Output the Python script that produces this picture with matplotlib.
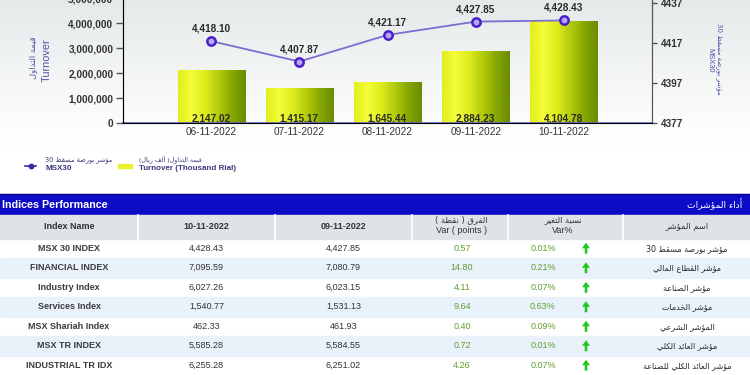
import re
import matplotlib
matplotlib.use('Agg')
import matplotlib.pyplot as plt
import numpy as np
from matplotlib import font_manager as fm
from matplotlib.colors import LinearSegmentedColormap

# ---- data ----
dates = ['06-11-2022', '07-11-2022', '08-11-2022', '09-11-2022', '10-11-2022']
turnover = [2147.02, 1415.17, 1645.44, 2884.23, 4104.78]  # thousand rial
msx30 = [4418.10, 4407.87, 4421.17, 4427.85, 4428.43]
left_ticks = [0, 1000000, 2000000, 3000000, 4000000, 5000000]
right_ticks = [4377, 4397, 4417, 4437]

index_en = ['MSX 30 INDEX', 'FINANCIAL INDEX', 'Industry Index', 'Services Index',
            'MSX Shariah Index', 'MSX TR INDEX', 'INDUSTRIAL TR IDX']
index_ar = ['مؤشر بورصة مسقط 30', 'مؤشر القطاع المالي', 'مؤشر الصناعة', 'مؤشر الخدمات',
            'المؤشر الشرعي', 'مؤشر العائد الكلي', 'مؤشر العائد الكلي للصناعة']
close_today = [4428.43, 7095.59, 6027.26, 1540.77, 462.33, 5585.28, 6255.28]
close_prev = [4427.85, 7080.79, 6023.15, 1531.13, 461.93, 5584.55, 6251.02]
var_points = [0.57, 14.80, 4.11, 9.64, 0.40, 0.72, 4.26]
var_pct = [0.01, 0.21, 0.07, 0.63, 0.09, 0.01, 0.07]

# ---- minimal arabic shaping (presentation forms + visual order) ----
DUAL = {'ئ': 0xFE89, 'ب': 0xFE8F, 'ت': 0xFE95, 'خ': 0xFEA5, 'س': 0xFEB1, 'ش': 0xFEB5,
        'ص': 0xFEB9, 'ط': 0xFEC1, 'ع': 0xFEC9, 'غ': 0xFECD, 'ف': 0xFED1, 'ق': 0xFED5,
        'ك': 0xFED9, 'ل': 0xFEDD, 'م': 0xFEE1, 'ن': 0xFEE5, 'ه': 0xFEE9, 'ي': 0xFEF1}
RIGHT = {'ا': 0xFE8D, 'أ': 0xFE83, 'ؤ': 0xFE85, 'ة': 0xFE93, 'د': 0xFEA9, 'ر': 0xFEAD,
         'و': 0xFEED}
ISO = {'ء': 0xFE80}


def ar(s):
    out = []
    i, n = 0, len(s)
    while i < n:
        ch = s[i]
        pj = i > 0 and s[i - 1] in DUAL
        if ch == 'ل' and i + 1 < n and s[i + 1] in 'اأ':
            base = 0xFEFB if s[i + 1] == 'ا' else 0xFEF7
            out.append(chr(base + (1 if pj else 0)))
            i += 2
            continue
        nxt = s[i + 1] if i + 1 < n else ''
        if ch in DUAL:
            jn = nxt in DUAL or nxt in RIGHT
            form = (3 if jn else 1) if pj else (2 if jn else 0)
            out.append(chr(DUAL[ch] + form))
        elif ch in RIGHT:
            out.append(chr(RIGHT[ch] + (1 if pj else 0)))
        elif ch in ISO:
            out.append(chr(ISO[ch]))
        else:
            out.append(ch)
        i += 1
    vis = ''.join(out)[::-1]
    vis = re.sub(r'[0-9]+', lambda m: m.group(0)[::-1], vis)
    return vis.translate(str.maketrans('()', ')('))


names = {f.name for f in fm.fontManager.ttflist}
if 'Liberation Sans Narrow' in names:
    NARROW, NS = 'Liberation Sans Narrow', 1.0
else:
    NARROW, NS = 'Liberation Sans', 0.82

plt.rcParams['font.family'] = ['Liberation Sans', 'DejaVu Sans']
AR = 'DejaVu Sans'

fig = plt.figure(figsize=(7.5, 3.75), dpi=100)
fig.patch.set_facecolor('white')

# background / table axes in pixel coords
bg = fig.add_axes([0, 0, 1, 1], zorder=0)
bg.axis('off')
grad = np.linspace(0, 1, 100)[:, None]
bg.imshow(grad, extent=(0, 750, 150, 0), aspect='auto',
          cmap=LinearSegmentedColormap.from_list('g', ['#e5e9e9', '#f4f6f6', '#ffffff']))
bg.set_xlim(0, 750)
bg.set_ylim(375, 0)

# ---- chart ----
ax = fig.add_axes([123 / 750, 1 - 123.3 / 375, 529 / 750, 125 / 375], zorder=1)
ax.patch.set_visible(False)
x = np.arange(len(dates))
bar_vals = [v * 1000 for v in turnover]
bars = ax.bar(x, bar_vals, width=0.76, facecolor='none', edgecolor='none')
bar_cmap = LinearSegmentedColormap.from_list(
    'b', ['#e2ee1c', '#f4fc3a', '#dcec1c', '#b4cc0c', '#88a800', '#6a8c00'])
hgrad = np.linspace(0, 1, 64)[None, :]
for r in bars:
    im = ax.imshow(hgrad, extent=(r.get_x(), r.get_x() + r.get_width(), 0, r.get_height()),
                   aspect='auto', cmap=bar_cmap, zorder=2)
    im.set_clip_path(r)
for xi, v in zip(x, turnover):
    ax.annotate(f'{v:,.2f}', (xi, 0), xytext=(0, 1.6), textcoords='offset points',
                ha='center', va='baseline', fontsize=7.2, fontweight='bold', color='#2a2a2a',
                zorder=4)
ax.set_xlim(-1, 5)
ax.set_ylim(0, 5000000)
ax.set_yticks(left_ticks)
ax.set_yticklabels([f'{t:,}' for t in left_ticks])
ax.set_xticks(x)
ax.set_xticklabels(dates)
ax.tick_params(axis='x', length=0, pad=3, labelsize=7.2, colors='#333333')
ax.tick_params(axis='y', length=5, width=1, pad=2, labelsize=7.2, colors='#333333',
               color='#555555')
for lab in ax.get_yticklabels():
    lab.set_fontweight('bold')
ax.spines['top'].set_visible(False)
ax.spines['left'].set_color('#555555')
ax.spines['right'].set_color('#555555')
ax.spines['bottom'].set_color('#6464cc')
ax.spines['bottom'].set_linewidth(1.2)

ax2 = ax.twinx()
ax2.set_ylim(4377, 4439.5)
ax2.set_yticks(right_ticks)
ax2.tick_params(axis='y', length=3.6, width=1, pad=3, labelsize=7.2, colors='#333333',
                color='#555555')
for lab in ax2.get_yticklabels():
    lab.set_fontweight('bold')
ax2.spines['top'].set_visible(False)
ax2.spines['right'].set_color('#555555')
ax2.plot(x, msx30, color='#7a6ed0', lw=1.3, marker='o', ms=6, mfc='#b4aaf0',
         mec='#4a1ec8', mew=1.8, zorder=5)
for xi, v in zip(x, msx30):
    ax2.annotate(f'{v:,.2f}', (xi, v), xytext=(0, 6.8), textcoords='offset points',
                 ha='center', va='baseline', fontsize=7.2, fontweight='bold', color='#2a2a2a')

# axis titles
lab_c = '#5050a8'
bg.text(33, 58, ar('قيمة التداول'), family=AR, rotation=90, ha='center', va='center',
        fontsize=6.0, color=lab_c)
bg.text(47, 60, 'Turnover', rotation=90, ha='center', va='center', fontsize=7.8, color=lab_c)
bg.text(719, 59, ar('مؤشر بورصة مسقط 30'), family=AR, rotation=-90, ha='center',
        va='center', fontsize=5.0, color=lab_c)
bg.text(710, 60, 'MSX30', rotation=-90, ha='center', va='center', fontsize=5.4, color=lab_c)

# legend
bg.plot([25, 36], [165.5, 165.5], color='#3a2aa0', lw=1.2)
bg.plot([30.5], [165.5], marker='o', ms=3.2, color='#3a2aa0')
bg.text(45, 160, ar('مؤشر بورصة مسقط 30'), family=AR, ha='left', va='center',
        fontsize=4.8, color='#3a3a7a')
bg.text(45, 168.5, 'MSX30', ha='left', va='center', fontsize=5.8, fontweight='bold',
        color='#3a3a7a')
bg.add_patch(plt.Rectangle((118, 164), 14, 4, color='#e8f030'))
bg.text(139, 160, ar('قيمة التداول( ألف ريال)'), family=AR, ha='left', va='center',
        fontsize=4.6, color='#3a3a7a')
bg.text(139, 168.5, 'Turnover (Thousand Rial)', ha='left', va='center', fontsize=5.8,
        fontweight='bold', color='#3a3a7a')

# ---- table ----
bg.add_patch(plt.Rectangle((0, 193.5), 750, 21, color='#0c0cc6'))
bg.plot([0, 750], [194, 194], color='#06067a', lw=0.8)
bg.text(2, 204.5, 'Indices Performance', family=NARROW, fontsize=9.4 * NS,
        fontweight='bold', color='white', ha='left', va='center')
bg.text(742, 204, ar('أداء المؤشرات'), family=AR, fontsize=6.6, color='white',
        ha='right', va='center')

col_edges = [0, 138, 275, 412, 508, 623, 750]
bg.add_patch(plt.Rectangle((0, 214.5), 750, 24, color='#dfe3e8'))
for ce in col_edges[1:-1]:
    bg.plot([ce, ce], [214.5, 238.5], color='white', lw=1.2)

hdr_c = '#333333'
tsz = 7.9 * NS
bg.text(69, 226.5, 'Index Name', family=NARROW, fontsize=tsz, fontweight='bold', color=hdr_c,
        ha='center', va='center')
bg.text(206.5, 226.5, '10-11-2022', family=NARROW, fontsize=tsz, fontweight='bold',
        color=hdr_c, ha='center', va='center')
bg.text(343.5, 226.5, '09-11-2022', family=NARROW, fontsize=tsz, fontweight='bold',
        color=hdr_c, ha='center', va='center')
bg.text(461, 219.5, ar('الفرق ( نقطة )'), family=AR, fontsize=6.0, color=hdr_c,
        ha='center', va='center')
bg.text(461, 230.5, 'Var ( points )', family=NARROW, fontsize=tsz, color=hdr_c,
        ha='center', va='center')
bg.text(563, 219.5, ar('نسبة التغير'), family=AR, fontsize=6.0, color=hdr_c,
        ha='center', va='center')
bg.text(563, 230.5, 'Var%', family=NARROW, fontsize=tsz, color=hdr_c,
        ha='center', va='center')
bg.text(687, 226.5, ar('اسم المؤشر'), family=AR, fontsize=6.0, color=hdr_c,
        ha='center', va='center')

row_h = 19.5
green = '#5e9e2c'
for i in range(len(index_en)):
    top = 238.5 + i * row_h
    yc = top + row_h / 2
    if i % 2 == 1:
        bg.add_patch(plt.Rectangle((0, top), 750, row_h, color='#e9f1fb'))
    bg.text(69, yc, index_en[i], family=NARROW, fontsize=tsz, fontweight='bold',
            color='#3c3c3c', ha='center', va='center')
    bg.text(206.5, yc, f'{close_today[i]:,.2f}', family=NARROW, fontsize=tsz,
            color='#333333', ha='center', va='center')
    bg.text(343.5, yc, f'{close_prev[i]:,.2f}', family=NARROW, fontsize=tsz,
            color='#333333', ha='center', va='center')
    bg.text(462, yc, f'{var_points[i]:.2f}', family=NARROW, fontsize=tsz, color=green,
            ha='center', va='center')
    bg.text(543, yc, f'{var_pct[i]:.2f}%', family=NARROW, fontsize=tsz, color=green,
            ha='center', va='center')
    bg.arrow(586, yc + 5.5, 0, -11, width=2.6, head_width=8, head_length=5.5,
             length_includes_head=True, color='#1ec81e', lw=0)
    bg.text(687, yc, ar(index_ar[i]), family=AR, fontsize=5.8, color='#2a2a2a',
            ha='center', va='center')

fig.savefig('out.png', dpi=100)
